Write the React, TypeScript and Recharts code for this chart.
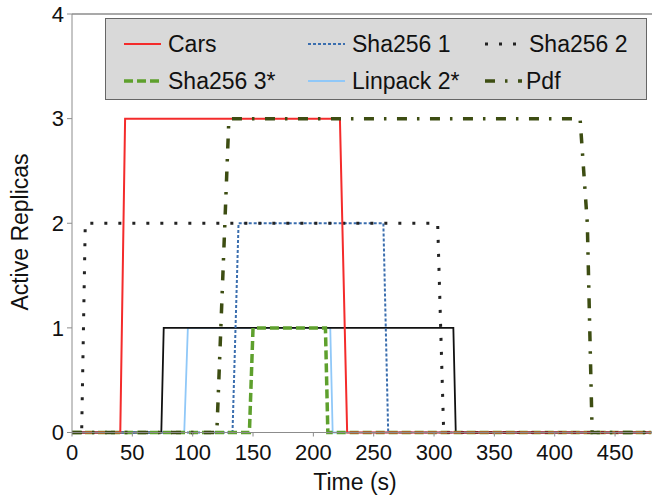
import { LineChart, Line, XAxis, YAxis, ReferenceLine, Legend } from 'recharts';

type Pt = { x: number; y: number };

// replica counts over time
const carsData: Pt[] = [
  { x: 0, y: 0 }, { x: 40, y: 0 }, { x: 44, y: 3 }, { x: 222, y: 3 }, { x: 228, y: 0 }, { x: 480, y: 0 },
];
const sha1Data: Pt[] = [
  { x: 0, y: 0 }, { x: 133, y: 0 }, { x: 138, y: 2 }, { x: 258, y: 2 }, { x: 262, y: 0 }, { x: 480, y: 0 },
];
const sha2Data: Pt[] = [
  { x: 0, y: 0 }, { x: 8, y: 0 }, { x: 11, y: 2 }, { x: 303, y: 2 }, { x: 308, y: 0 }, { x: 480, y: 0 },
];
const sha3Data: Pt[] = [
  { x: 0, y: 0 }, { x: 147, y: 0 }, { x: 150, y: 1 }, { x: 210, y: 1 }, { x: 212, y: 0 }, { x: 480, y: 0 },
];
const linpackData: Pt[] = [
  { x: 0, y: 0 }, { x: 93, y: 0 }, { x: 96, y: 1 }, { x: 214, y: 1 }, { x: 216, y: 0 }, { x: 480, y: 0 },
];
const pdfData: Pt[] = [
  { x: 0, y: 0 }, { x: 120, y: 0 }, { x: 130, y: 3 }, { x: 421, y: 3 }, { x: 427, y: 2 }, { x: 431, y: 0 }, { x: 480, y: 0 },
];
const otherData: Pt[] = [
  { x: 0, y: 0 }, { x: 74, y: 0 }, { x: 76, y: 1 }, { x: 316, y: 1 }, { x: 318, y: 0 }, { x: 480, y: 0 },
];

const xTicks = [0, 50, 100, 150, 200, 250, 300, 350, 400, 450];
const yTicks = [0, 1, 2, 3, 4];

const FONT = '"Liberation Sans", Arial, sans-serif';

interface SeriesStyle {
  key: string;
  name: string;
  data: Pt[];
  color: string;
  width: number;
  dash?: string;
}

// draw order, bottom to top
const series: SeriesStyle[] = [
  { key: 'linpack', name: 'Linpack 2*', data: linpackData, color: '#90c8f8', width: 1.8 },
  { key: 'other', name: 'other', data: otherData, color: '#111111', width: 1.8 },
  { key: 'sha1', name: 'Sha256 1', data: sha1Data, color: '#3b6eae', width: 2, dash: '3 2' },
  { key: 'sha3', name: 'Sha256 3*', data: sha3Data, color: '#5ea02d', width: 3.5, dash: '9 4' },
  { key: 'sha2', name: 'Sha256 2', data: sha2Data, color: '#222222', width: 3, dash: '3 11' },
  { key: 'cars', name: 'Cars', data: carsData, color: '#f42b2b', width: 2 },
  { key: 'pdf', name: 'Pdf', data: pdfData, color: '#3d4d12', width: 3.5, dash: '10 10 2.5 10.5' },
];

// legend grid order as in the reference
const legendOrder = ['Cars', 'Sha256 1', 'Sha256 2', 'Sha256 3*', 'Linpack 2*', 'Pdf'];

function LegendBox() {
  const colX = [18, 202, 379];
  const rowY = [25, 62];
  return (
    <div
      style={{
        position: 'relative',
        width: 542,
        height: 82,
        boxSizing: 'border-box',
        background: '#d9d9d9',
        border: '1px solid #666',
        fontFamily: FONT,
        fontSize: 23,
        color: '#111',
      }}
    >
      {legendOrder.map((name, i) => {
        const s = series.find((d) => d.name === name)!;
        const left = colX[i % 3];
        const top = rowY[Math.floor(i / 3)];
        return (
          <div
            key={name}
            style={{ position: 'absolute', left, top: top - 14, height: 28, display: 'flex', alignItems: 'center' }}
          >
            <svg width={37} height={10} style={{ marginRight: name === 'Pdf' ? 4 : 7 }}>
              <line
                x1={0}
                y1={5}
                x2={37}
                y2={5}
                stroke={s.color}
                strokeWidth={s.width}
                strokeDasharray={s.dash}
              />
            </svg>
            <span style={{ whiteSpace: 'nowrap' }}>{name}</span>
          </div>
        );
      })}
    </div>
  );
}

export default function App() {
  return (
    <div style={{ position: 'absolute', left: 0, top: 0, width: 652, height: 499, background: '#fff' }}>
      <LineChart width={652} height={499} margin={{ top: 14, right: 0, left: 0, bottom: 0 }}>
        <XAxis
          type="number"
          dataKey="x"
          domain={[0, 480.6]}
          ticks={xTicks}
          height={66.5}
          tickSize={4}
          tickMargin={8}
          stroke="#8c8c8c"
          tick={{ fontSize: 22, fill: '#111', fontFamily: FONT }}
          label={{
            content: () => (
              <text x={355} y={490} textAnchor="middle" fontSize={23} fill="#111" fontFamily={FONT}>
                Time (s)
              </text>
            ),
          }}
        />
        <YAxis
          type="number"
          domain={[0, 4]}
          ticks={yTicks}
          width={72}
          tickSize={5}
          tickMargin={3}
          stroke="#8c8c8c"
          tick={{ fontSize: 22, fill: '#111', fontFamily: FONT }}
          label={{
            content: () => (
              <text
                x={20}
                y={232}
                transform="rotate(-90 20 232)"
                textAnchor="middle"
                dominantBaseline="central"
                fontSize={23}
                fill="#111"
                fontFamily={FONT}
              >
                Active Replicas
              </text>
            ),
          }}
        />
        <ReferenceLine y={4} stroke="#8c8c8c" strokeWidth={1.3} />
        <Legend
          layout="horizontal"
          verticalAlign="middle"
          align="center"
          wrapperStyle={{ position: 'absolute', left: 105, top: 18, width: 542, height: 82 }}
          content={() => <LegendBox />}
        />
        {series.map((s) => (
          <Line
            key={s.key}
            data={s.data}
            dataKey="y"
            name={s.name}
            type="linear"
            stroke={s.color}
            strokeWidth={s.width}
            strokeDasharray={s.dash}
            dot={false}
            activeDot={false}
            legendType="none"
            isAnimationActive={false}
          />
        ))}
      </LineChart>
    </div>
  );
}
